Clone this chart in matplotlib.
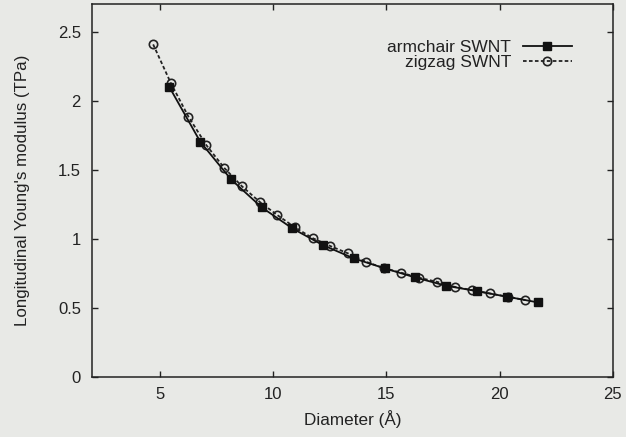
import matplotlib
matplotlib.use("Agg")
import matplotlib.pyplot as plt
from matplotlib.ticker import FormatStrFormatter

plt.rcParams["font.family"] = ["Liberation Sans", "DejaVu Sans"]

# diameters (Å) and longitudinal Young's modulus (TPa)
armchair_d = [5.42, 6.78, 8.14, 9.49, 10.85, 12.20, 13.56, 14.92, 16.27, 17.63, 18.99, 20.34, 21.70]
armchair_E = [2.10, 1.705, 1.432, 1.230, 1.077, 0.956, 0.860, 0.788, 0.722, 0.662, 0.623, 0.582, 0.541]

zigzag_d = [4.70, 5.48, 6.26, 7.05, 7.83, 8.61, 9.40, 10.18, 10.96, 11.74, 12.53,
            13.31, 14.09, 14.88, 15.66, 16.44, 17.22, 18.01, 18.79, 19.57, 20.36, 21.14]
zigzag_E = [2.41, 2.13, 1.886, 1.680, 1.517, 1.384, 1.270, 1.174, 1.085, 1.007, 0.949,
            0.896, 0.836, 0.790, 0.756, 0.720, 0.691, 0.654, 0.630, 0.606, 0.582, 0.558]

x_ticks = [5, 10, 15, 20, 25]
y_ticks = [0, 0.5, 1, 1.5, 2, 2.5]

bg = "#e8e9e6"
fig = plt.figure(figsize=(6.26, 4.37), dpi=100, facecolor=bg)
ax = fig.add_axes([0.147, 0.137, 0.832, 0.853], facecolor=bg)

ax.plot(armchair_d, armchair_E, color="#111111", lw=1.3, ls="-",
        marker="s", ms=5.5, mfc="#111111", mec="#111111",
        label="armchair SWNT", zorder=3)
ax.plot(zigzag_d, zigzag_E, color="#222222", lw=1.3, ls=(0, (2, 1.3)),
        marker="o", ms=6, mfc="none", mec="#222222", mew=1.2,
        label="zigzag SWNT", zorder=2)

ax.set_xlim(2, 25)
ax.set_ylim(0, 2.7)
ax.set_xticks(x_ticks)
ax.set_yticks(y_ticks)
ax.yaxis.set_major_formatter(FormatStrFormatter("%g"))
ax.tick_params(direction="in", length=4, width=1, top=True, right=True,
               labelsize=12, colors="#222222")
ax.tick_params(axis="y", pad=8)
ax.tick_params(axis="x", pad=7)
for s in ax.spines.values():
    s.set_linewidth(1.1)
    s.set_color("#222222")

ax.set_xlabel("Diameter (Å)", fontsize=12.3, color="#222222", labelpad=6)
ax.set_ylabel("Longitudinal Young's modulus (TPa)", fontsize=12.2, color="#222222", labelpad=20)

leg = ax.legend(loc="upper right", bbox_to_anchor=(0.921, 0.905), frameon=False,
                markerfirst=False, fontsize=12.5, handlelength=2.8, handletextpad=0.7,
                labelspacing=0.0, borderpad=0, borderaxespad=0)
for t in leg.get_texts():
    t.set_color("#222222")

fig.savefig("out.png", dpi=100, facecolor=bg)
